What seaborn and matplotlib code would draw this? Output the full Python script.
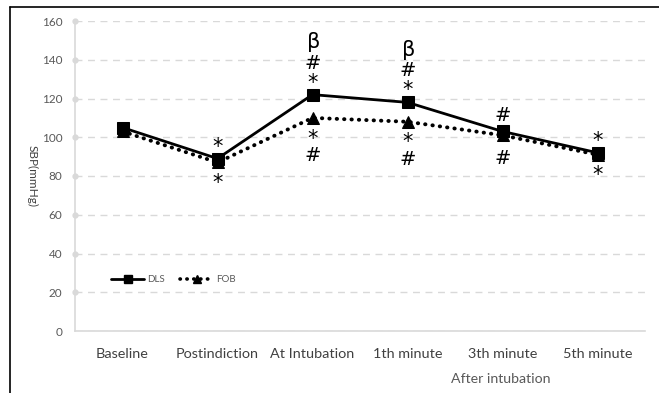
import matplotlib
matplotlib.use("Agg")
import matplotlib.pyplot as plt
import seaborn as sns
import pandas as pd
from matplotlib.lines import Line2D

categories = ["Baseline", "Postindiction", "At Intubation", "1th minute", "3th minute", "5th minute"]
dls = [105, 89, 122, 118, 103, 92]
fob = [103, 87, 110, 108, 101, 91]
# significance marks stacked above DLS (nearest first) and below FOB (nearest first)
above_marks = [[], ["*"], ["*", "#", "β"], ["*", "#", "β"], ["#"], ["*"]]
below_marks = [[], ["*"], ["*", "#"], ["*", "#"], ["#"], ["*"]]
yticks = [0, 20, 40, 60, 80, 100, 120, 140, 160]

sns.set_theme(style="white")
plt.rcParams["font.family"] = ["Lato", "DejaVu Sans"]
plt.rcParams["mathtext.fontset"] = "custom"
plt.rcParams["mathtext.rm"] = "DejaVu Sans"
plt.rcParams["mathtext.it"] = "DejaVu Sans:italic"
plt.rcParams["mathtext.bf"] = "DejaVu Sans:bold"

fig = plt.figure(figsize=(6.59, 3.93), dpi=100)
ax = fig.add_axes([75/659, 1-331/393, 570/659, 310/393])

df = pd.DataFrame({"time": categories * 2,
                   "SBP": dls + fob,
                   "group": ["DLS"]*6 + ["FOB"]*6})

dot_style = (0, (0.1, 1.8))
sns.lineplot(data=df[df.group == "DLS"], x="time", y="SBP", ax=ax, color="black",
             lw=2, marker="s", markersize=8, markeredgecolor="black", sort=False, zorder=4)
sns.lineplot(data=df[df.group == "FOB"], x="time", y="SBP", ax=ax, color="black",
             lw=2.8, linestyle=dot_style, marker="^", markersize=8,
             markeredgecolor="black", sort=False, dash_capstyle="round", zorder=3)

ax.set_xlim(-0.5, 5.5)
ax.set_ylim(0, 160)
ax.set_yticks(yticks)
ax.yaxis.grid(True, color="#d9d9d9", linestyle=(0, (5, 4)), lw=1)
ax.tick_params(axis="y", labelsize=8.5, labelcolor="#595959", length=0, pad=9)
ax.tick_params(axis="x", labelsize=10.4, labelcolor="#404040", length=0, pad=12)
for s in ["top", "right"]:
    ax.spines[s].set_visible(False)
for s in ["left", "bottom"]:
    ax.spines[s].set_color("#d9d9d9")
    ax.spines[s].set_linewidth(1.2)
ax.plot([-0.5]*len(yticks[1:]), yticks[1:], "o", color="#d9d9d9", ms=3.5, clip_on=False, zorder=3)
ax.set_xlabel("")
ax.set_ylabel("SBP(mmHg)", fontsize=8.5, color="#404040", rotation=270, va="center")
ax.yaxis.set_label_coords((32-75)/570, 0.5)

# significance marks (mathtext gives tight glyph boxes)
tex = {"*": r"$\mathrm{*}$", "#": r"$\mathrm{\#}$", "β": r"$\mathrm{β}$"}
size = {"*": 15, "#": 14, "β": 15}
above_pos = [{"*": 10.1, "#": 11.5, "β": 38}, {"#": 23}, {"β": 38}]
below_pos = [{"*": -13.5, "#": -16.6}, {"#": -27}]
for i, (hi, lo) in enumerate(zip(dls, fob)):
    for k, m in enumerate(above_marks[i]):
        off = above_pos[k].get(m, above_pos[0][m])
        ax.annotate(tex[m], (i, hi), xytext=(0, off), textcoords="offset points",
                    ha="center", va="center", fontsize=size[m], color="black", zorder=5)
    for k, m in enumerate(below_marks[i]):
        off = below_pos[k].get(m, below_pos[0][m])
        ax.annotate(tex[m], (i, lo), xytext=(0, off), textcoords="offset points",
                    ha="center", va="center", fontsize=size[m], color="black", zorder=5)

# legend
h1 = Line2D([], [], color="black", lw=2, marker="s", ms=6)
h2 = Line2D([], [], color="black", lw=2.6, linestyle=dot_style, marker="^", ms=6,
            dash_capstyle="round")
ax.legend([h1, h2], ["DLS", "FOB"], loc="center left", bbox_to_anchor=(36/570, 51/310),
          ncol=2, frameon=False, fontsize=7, handlelength=3.4, handletextpad=0.3,
          columnspacing=1.6, labelcolor="#595959", borderaxespad=0, borderpad=0)

fig.text(501/659, 1-379/393, "After intubation", ha="center", va="center",
         fontsize=10.2, color="#595959")

# frame lines of screenshot
fig.add_artist(Line2D([10/659, 10/659], [0, 1-7/393], color="black", lw=1.2))
fig.add_artist(Line2D([10/659, 1], [1-7/393, 1-7/393], color="black", lw=1.2))

fig.savefig("out.png", dpi=100)
